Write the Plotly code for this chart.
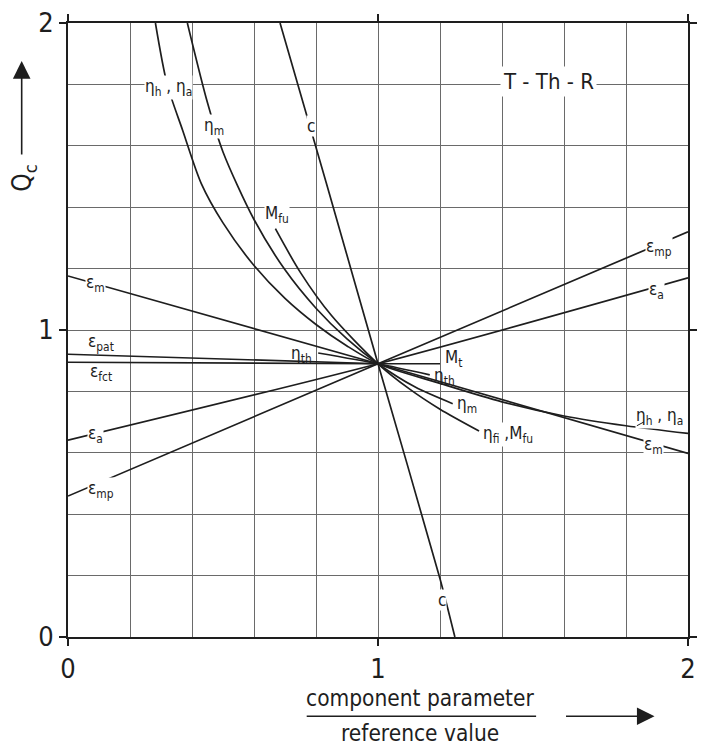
import plotly.graph_objects as go

# ---------------- data ----------------
eta_ha_x = [0.282, 0.32, 0.37, 0.43, 0.50, 0.60, 0.70, 0.80, 0.90, 1.0, 1.2, 1.4, 1.6, 1.8, 2.0]
eta_ha_y = [2.0, 1.80, 1.65, 1.477, 1.349, 1.21, 1.103, 1.018, 0.948, 0.89, 0.826, 0.766, 0.720, 0.688, 0.663]

eta_m_x = [0.385, 0.45, 0.50, 0.60, 0.70, 0.80, 0.90, 1.0, 1.12, 1.241]
eta_m_y = [2.0, 1.74, 1.58, 1.36, 1.196, 1.071, 0.971, 0.89, 0.814, 0.760]

m_fu_x = [0.669, 0.75, 0.85, 1.0, 1.10, 1.20, 1.326]
m_fu_y = [1.33, 1.187, 1.047, 0.89, 0.809, 0.742, 0.671]

c_x = [0.684, 0.833, 1.0, 1.20, 1.248]
c_y = [2.0, 1.48, 0.89, 0.19, 0.0]

eps_mp_x = [0.0, 1.0, 2.0]
eps_mp_y = [0.459, 0.89, 1.32]

eps_a_x = [0.0, 1.0, 2.0]
eps_a_y = [0.641, 0.89, 1.17]

eps_m_x = [0.0, 1.0, 2.0]
eps_m_y = [1.176, 0.89, 0.598]

eps_pat_x = [0.0, 1.0]
eps_pat_y = [0.921, 0.89]

eps_fct_x = [0.0, 1.0]
eps_fct_y = [0.895, 0.89]

eta_th_x = [0.807, 1.0, 1.167]
eta_th_y = [0.925, 0.89, 0.854]

m_t_x = [1.0, 1.2]
m_t_y = [0.89, 0.89]

axis_tick_vals = [0, 1, 2]
axis_tick_text = ["0", "1", "2"]

series = [
    ("η_h, η_a", eta_ha_x, eta_ha_y),
    ("η_m", eta_m_x, eta_m_y),
    ("M_fu", m_fu_x, m_fu_y),
    ("c", c_x, c_y),
    ("ε_mp", eps_mp_x, eps_mp_y),
    ("ε_a", eps_a_x, eps_a_y),
    ("ε_m", eps_m_x, eps_m_y),
    ("ε_pat", eps_pat_x, eps_pat_y),
    ("ε_fct", eps_fct_x, eps_fct_y),
    ("η_th", eta_th_x, eta_th_y),
    ("M_t", m_t_x, m_t_y),
]

# label text, x, y, white background?
labels = [
    ("η<sub>h</sub> , η<sub>a</sub>", 0.324, 1.79, True),
    ("η<sub>m</sub>", 0.47, 1.664, True),
    ("c", 0.785, 1.664, True),
    ("M<sub>fu</sub>", 0.674, 1.376, True),
    ("ε<sub>m</sub>", 0.089, 1.153, True),
    ("ε<sub>pat</sub>", 0.108, 0.96, False),
    ("ε<sub>fct</sub>", 0.105, 0.86, False),
    ("ε<sub>a</sub>", 0.089, 0.659, True),
    ("ε<sub>mp</sub>", 0.108, 0.481, True),
    ("η<sub>th</sub>", 0.754, 0.921, False),
    ("ε<sub>mp</sub>", 1.908, 1.27, True),
    ("ε<sub>a</sub>", 1.898, 1.128, True),
    ("M<sub>t</sub>", 1.243, 0.908, False),
    ("η<sub>th</sub>", 1.215, 0.847, False),
    ("η<sub>m</sub>", 1.288, 0.756, False),
    ("η<sub>fi</sub> ,M<sub>fu</sub>", 1.418, 0.659, True),
    ("η<sub>h</sub> , η<sub>a</sub>", 1.908, 0.717, True),
    ("ε<sub>m</sub>", 1.889, 0.624, True),
    ("c", 1.207, 0.12, True),
]

FONT = "Liberation Sans Narrow, DejaVu Sans Condensed, Liberation Sans, DejaVu Sans, sans-serif"
INK = "#1e1e1e"

fig = go.Figure()
for name, xs, ys in series:
    fig.add_trace(go.Scatter(x=xs, y=ys, mode="lines", name=name,
                             line=dict(color=INK, width=1.7, shape="spline", smoothing=0.8),
                             hoverinfo="skip", showlegend=False))

for text, x, y, bg in labels:
    fig.add_annotation(x=x, y=y, text=text, showarrow=False,
                       xanchor="center", yanchor="middle",
                       font=dict(family=FONT, size=17, color=INK),
                       bgcolor="white" if bg else "rgba(0,0,0,0)", borderpad=0)

# leader from right eta_h,eta_a label to its curve
fig.add_annotation(x=1.835, y=0.688, ax=1.862, ay=0.703, axref="x", ayref="y",
                   text="", showarrow=True, arrowhead=0, arrowwidth=1, arrowcolor=INK)

fig.add_annotation(x=1.549, y=1.81, text="T - Th - R", showarrow=False,
                   xanchor="center", yanchor="middle",
                   font=dict(family=FONT, size=22, color=INK), bgcolor="white", borderpad=2)

# y-axis title with arrow
fig.add_annotation(xref="paper", yref="paper", x=-0.071, y=0.748, text="Q<sub>c</sub>",
                   xanchor="center", yanchor="middle",
                   textangle=-90, showarrow=False, font=dict(family=FONT, size=26, color=INK))
fig.add_annotation(xref="paper", yref="paper", x=-0.0747, y=0.938, ax=0, ay=95, text="",
                   showarrow=True, arrowhead=2, arrowsize=2.2, arrowwidth=1.6, arrowcolor=INK)

# x-axis title as a fraction with arrow
fig.add_annotation(xref="paper", yref="paper", x=0.568, y=-0.099, text="component parameter",
                   xanchor="center", yanchor="middle",
                   showarrow=False, font=dict(family=FONT, size=22.5, color=INK))
fig.add_annotation(xref="paper", yref="paper", x=0.568, y=-0.157, text="reference value",
                   xanchor="center", yanchor="middle",
                   showarrow=False, font=dict(family=FONT, size=22.5, color=INK))
fig.add_shape(type="line", xref="paper", yref="paper", x0=0.385, x1=0.755, y0=-0.129, y1=-0.129,
              line=dict(color=INK, width=1.6))
fig.add_annotation(xref="paper", yref="paper", x=0.946, y=-0.129, ax=-90, ay=0, text="",
                   showarrow=True, arrowhead=2, arrowsize=2.2, arrowwidth=1.6, arrowcolor=INK)

axis_common = dict(
    range=[0, 2], tickvals=axis_tick_vals, ticktext=axis_tick_text,
    showline=True, linecolor=INK, linewidth=1.8, mirror="ticks",
    ticks="outside", ticklen=7, tickwidth=1.5, tickcolor=INK,
    showgrid=True, gridcolor="#6a6a6a", gridwidth=1,
    minor=dict(dtick=0.2, showgrid=True, gridcolor="#6a6a6a", gridwidth=1, ticks=""),
    zeroline=False, tickfont=dict(family=FONT, size=27, color=INK),
    fixedrange=True,
)

fig.update_layout(
    width=704, height=749,
    margin=dict(l=68, r=7, t=18, b=112),
    paper_bgcolor="white", plot_bgcolor="white",
    xaxis=axis_common, yaxis=axis_common,
    showlegend=False,
)

fig.write_html("out.html")
